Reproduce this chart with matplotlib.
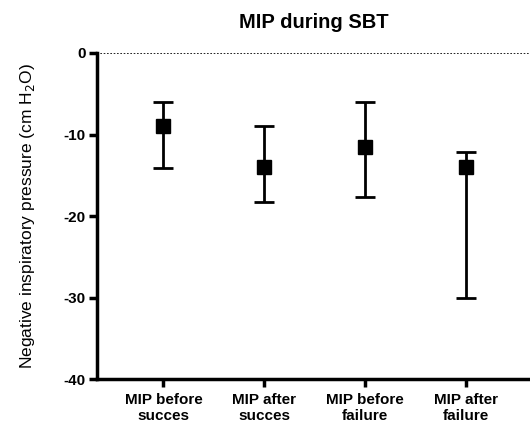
import matplotlib
matplotlib.use("Agg")
import matplotlib.pyplot as plt

plt.rcParams['font.family'] = ['Liberation Sans', 'DejaVu Sans']

categories = ["MIP before\nsucces", "MIP after\nsucces", "MIP before\nfailure", "MIP after\nfailure"]
means = [-9.0, -14.0, -11.5, -14.0]
upper = [-6.0, -9.0, -6.0, -12.1]
lower = [-14.1, -18.3, -17.7, -30.0]
yticks = [0, -10, -20, -30, -40]

fig = plt.figure(figsize=(5.3, 4.24), dpi=100)
ax = fig.add_axes([0.183, 0.106, 0.817, 0.769])

x = list(range(len(categories)))
yerr = [[m - l for m, l in zip(means, lower)], [u - m for m, u in zip(means, upper)]]
ax.errorbar(x, means, yerr=yerr, fmt='s', color='black', markersize=10,
            elinewidth=2.0, capsize=7, capthick=2.0, zorder=3)

ax.axhline(0, color='black', linestyle=(0, (1, 1)), linewidth=1.2, zorder=1)

ax.set_xlim(-0.66, 3.64)
ax.set_ylim(-40, 0)
ax.set_yticks(yticks)
ax.set_yticklabels([str(t) for t in yticks], fontweight='bold', fontsize=11)
ax.set_xticks(x)
ax.set_xticklabels(categories, fontweight='bold', fontsize=11, linespacing=1.15)

for s in ['top', 'right']:
    ax.spines[s].set_visible(False)
for s in ['left', 'bottom']:
    ax.spines[s].set_linewidth(2.5)
ax.tick_params(axis='both', width=2.5, length=6, direction='out')
ax.tick_params(axis='y', pad=2)
ax.tick_params(axis='x', pad=4)

ax.set_ylabel("Negative inspiratory pressure (cm H$_2$O)", fontsize=12.5, labelpad=19)
ax.set_title("MIP during SBT", fontsize=14.5, fontweight='bold', pad=18)

fig.savefig("out.png", dpi=100)
